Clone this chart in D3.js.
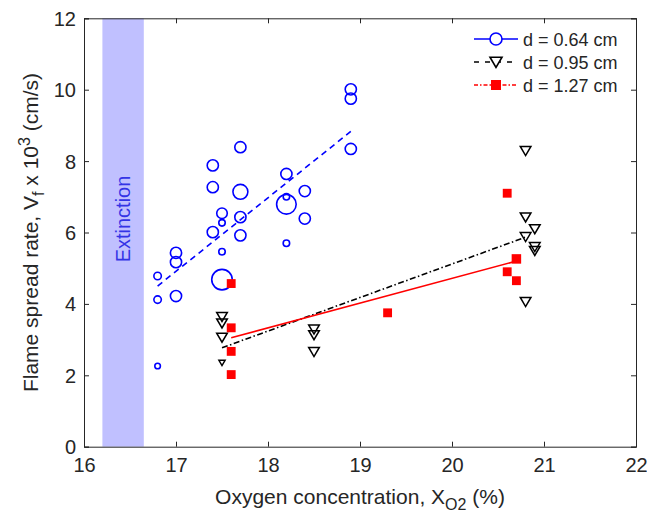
<!DOCTYPE html>
<html><head><meta charset="utf-8">
<script src="https://cdn.jsdelivr.net/npm/d3@7"></script>
<style>
html,body{margin:0;padding:0;background:#fff;}
svg text{font-family:"Liberation Sans",Arial,Helvetica,sans-serif;}
</style></head>
<body><svg id="c" width="647" height="515"></svg>
<script>
// ---- data ----
const xTicks = [16,17,18,19,20,21,22];
const yTicks = [0,2,4,6,8,10,12];
const extinctionRange = [16.2, 16.65];

// d = 0.64 cm (open circles, marker size varies)
const blueX = [18.9,18.9,18.9,17.7,17.4,17.4,17.7,18.2,18.2,18.2,18.4,18.4,17.5,17.5,17.7,17.4,17.7,18.2,17.5,17.0,17.0,16.8,17.5,16.8,17.0,16.8];
const blueY = [10.01,9.75,8.34,8.39,7.88,7.27,7.14,7.64,6.79,7.0,7.16,6.39,6.54,6.27,6.43,6.01,5.92,5.70,5.46,5.43,5.17,4.78,4.68,4.12,4.22,2.26];
const blueS = [36,36,36,36,36,36,64,36,110,12,36,36,32,12,36,36,36,12,12,36,36,16,121,16,36,9];

// d = 0.95 cm (open down-triangles)
const blackX = [17.5,17.5,17.5,17.5,18.5,18.5,18.5,20.8,20.8,20.9,20.8,20.9,20.9,20.8];
const blackY = [3.64,3.46,3.06,2.35,3.29,3.13,2.66,8.29,6.43,6.10,5.88,5.60,5.49,4.06];
const blackS = [36,36,36,12,36,36,36,36,36,36,36,36,36,36];

// d = 1.27 cm (filled squares)
const redX = [17.6,17.6,17.6,17.6,19.3,20.6,20.7,20.6,20.7];
const redY = [4.57,3.33,2.67,2.02,3.75,7.10,5.26,4.90,4.65];
const redS = [40,40,40,40,40,40,46,40,40];

// linear fits (end points)
const blueFitX = [16.8, 18.9],  blueFitY = [4.50, 8.83];
const blackFitX = [17.5, 20.8], blackFitY = [2.77, 5.87];
const redFitX = [17.6, 20.7],   redFitY = [3.05, 5.20];

const legendLabels = ["d = 0.64 cm","d = 0.95 cm","d = 1.27 cm"];

// ---- layout ----
const svg = d3.select("#c");
const L = 84, R = 636, T = 18.3, B = 446.7;
const x = d3.scaleLinear().domain([16,22]).range([L,R]);
const y = d3.scaleLinear().domain([0,12]).range([B,T]);
const size = d3.scaleSqrt().domain([0,36]).range([0,5.6]);

const BLUE="#0000ff", RED="#ff0000", BLK="#000000", AX="#262626";
const FS = 20, TFS = 21;

// extinction band
svg.append("rect").attr("x",x(extinctionRange[0])).attr("y",T)
  .attr("width",x(extinctionRange[1])-x(extinctionRange[0])).attr("height",B-T)
  .attr("fill","#c0c0ff");
const midX=(x(extinctionRange[0])+x(extinctionRange[1]))/2;
svg.append("text").attr("transform",`translate(${midX+7},219) rotate(-90)`)
  .attr("text-anchor","middle").attr("font-size",20).attr("fill","#3434e6").text("Extinction");

// axes
const gx = svg.append("g").attr("transform",`translate(0,${B})`)
  .call(d3.axisBottom(x).tickValues(xTicks).tickSize(-5).tickPadding(9).tickFormat(d3.format("d")));
const gxt = svg.append("g").attr("transform",`translate(0,${T})`)
  .call(d3.axisTop(x).tickValues(xTicks).tickSize(-5).tickFormat(""));
const gy = svg.append("g").attr("transform",`translate(${L},0)`)
  .call(d3.axisLeft(y).tickValues(yTicks).tickSize(-5).tickPadding(8).tickFormat(d3.format("d")));
const gyr = svg.append("g").attr("transform",`translate(${R},0)`)
  .call(d3.axisRight(y).tickValues(yTicks).tickSize(-5).tickFormat(""));
[gx,gxt,gy,gyr].forEach(g=>{
  g.select(".domain").attr("stroke",AX).attr("stroke-width",1);
  g.selectAll(".tick line").attr("stroke",AX);
  g.selectAll("text").attr("font-size",FS).attr("fill",AX).attr("font-family","Liberation Sans, Arial, sans-serif");
});
gx.selectAll(".tick text").attr("dy","0.8em");
gy.selectAll(".tick text").attr("dy","0.35em");

// axis titles
const xt = svg.append("text").attr("x",(L+R)/2).attr("y",504).attr("text-anchor","middle")
  .attr("font-size",TFS).attr("fill",AX);
xt.append("tspan").text("Oxygen concentration, X");
xt.append("tspan").attr("font-size",16).attr("dy",6).text("O2");
xt.append("tspan").attr("dy",-6).text(" (%)");

const yt = svg.append("text").attr("transform",`translate(38,${(T+B)/2}) rotate(-90)`)
  .attr("text-anchor","middle").attr("font-size",TFS).attr("fill",AX);
yt.append("tspan").text("Flame spread rate, V");
yt.append("tspan").attr("font-size",16).attr("dy",6).text("f");
yt.append("tspan").attr("dy",-6).text(" x 10");
yt.append("tspan").attr("font-size",16).attr("dy",-8).text("3");
yt.append("tspan").attr("dy",8).text(" (cm/s)");

// fit lines
const line = d3.line().x(d=>x(d[0])).y(d=>y(d[1]));
svg.append("path").datum(d3.zip(blueFitX,blueFitY)).attr("d",line)
  .attr("fill","none").attr("stroke",BLUE).attr("stroke-width",1.6).attr("stroke-dasharray","6,4.5");
svg.append("path").datum(d3.zip(blackFitX,blackFitY)).attr("d",line)
  .attr("fill","none").attr("stroke",BLK).attr("stroke-width",1.6).attr("stroke-dasharray","6,2.5,1.5,2.5");
svg.append("path").datum(d3.zip(redFitX,redFitY)).attr("d",line)
  .attr("fill","none").attr("stroke",RED).attr("stroke-width",1.6);

// markers
const tri = r => `M${-r},${-r*0.8}L${r},${-r*0.8}L0,${r*0.9}Z`;
svg.append("g").selectAll("circle").data(d3.zip(blueX,blueY,blueS)).join("circle")
  .attr("cx",d=>x(d[0])).attr("cy",d=>y(d[1])).attr("r",d=>size(d[2]))
  .attr("fill","none").attr("stroke",BLUE).attr("stroke-width",1.6);
svg.append("g").selectAll("path").data(d3.zip(blackX,blackY,blackS)).join("path")
  .attr("transform",d=>`translate(${x(d[0])},${y(d[1])})`).attr("d",d=>tri(size(d[2])*0.95))
  .attr("fill","none").attr("stroke",BLK).attr("stroke-width",1.5);
svg.append("g").selectAll("rect").data(d3.zip(redX,redY,redS)).join("rect")
  .attr("x",d=>x(d[0])-size(d[2])*0.75).attr("y",d=>y(d[1])-size(d[2])*0.75)
  .attr("width",d=>size(d[2])*1.5).attr("height",d=>size(d[2])*1.5).attr("fill",RED);

// legend (no box)
const lg = svg.append("g");
const rowsY=[39,62,85];
const lx0=474, lx1=518, lm=496;
lg.append("line").attr("x1",lx0).attr("x2",lx1).attr("y1",rowsY[0]).attr("y2",rowsY[0]).attr("stroke",BLUE).attr("stroke-width",1.6);
lg.append("circle").attr("cx",lm).attr("cy",rowsY[0]).attr("r",6).attr("fill","#fff").attr("stroke",BLUE).attr("stroke-width",1.6);
lg.append("line").attr("x1",lx0).attr("x2",lx1).attr("y1",rowsY[1]).attr("y2",rowsY[1]).attr("stroke",BLK).attr("stroke-width",1.6).attr("stroke-dasharray","5,6");
lg.append("path").attr("transform",`translate(${lm},${rowsY[1]})`).attr("d",tri(6)).attr("fill","#fff").attr("stroke",BLK).attr("stroke-width",1.6);
lg.append("line").attr("x1",lx0).attr("x2",lx1).attr("y1",rowsY[2]).attr("y2",rowsY[2]).attr("stroke",RED).attr("stroke-width",1.4).attr("stroke-dasharray","4,2,1.5,2");
lg.append("rect").attr("x",lm-5).attr("y",rowsY[2]-5).attr("width",10).attr("height",10).attr("fill",RED);
lg.selectAll("text.l").data(legendLabels).join("text").attr("class","l")
  .attr("x",523).attr("y",(d,i)=>rowsY[i]+6.5).attr("font-size",18).attr("fill",AX).text(d=>d);
</script></body></html>
